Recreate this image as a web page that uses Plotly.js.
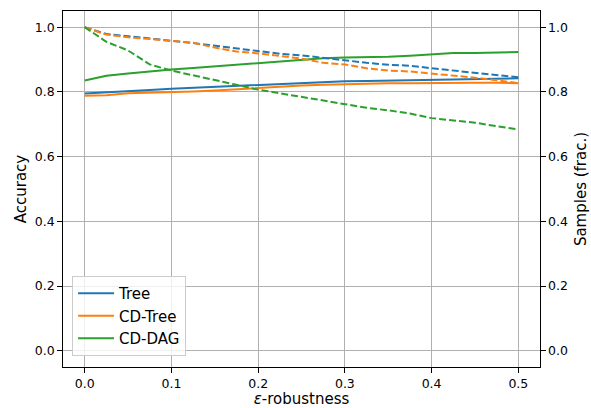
<!DOCTYPE html>
<html>
<head>
<meta charset="utf-8">
<script src="https://cdn.plot.ly/plotly-3.0.1.min.js"></script>
<style>
  html, body { margin: 0; padding: 0; background: #fff; }
  #chart { width: 591px; height: 408px; }
</style>
</head>
<body>
<div id="chart"></div>
<script>
// epsilon values
const eps = [0, 0.025, 0.05, 0.075, 0.1, 0.125, 0.15, 0.175, 0.2, 0.225, 0.25,
             0.275, 0.3, 0.325, 0.35, 0.375, 0.4, 0.425, 0.45, 0.475, 0.5];

// accuracy (left axis, solid lines)
const accTree   = [0.795, 0.798, 0.801, 0.806, 0.810, 0.813, 0.815, 0.819, 0.823, 0.826, 0.829,
                   0.831, 0.833, 0.834, 0.835, 0.836, 0.838, 0.839, 0.840, 0.841, 0.842];
const accCDTree = [0.788, 0.790, 0.796, 0.797, 0.799, 0.801, 0.804, 0.808, 0.813, 0.817, 0.820,
                   0.822, 0.824, 0.826, 0.827, 0.827, 0.828, 0.828, 0.828, 0.828, 0.827];
const accCDDAG  = [0.835, 0.850, 0.857, 0.864, 0.869, 0.874, 0.879, 0.884, 0.891, 0.895, 0.900,
                   0.904, 0.906, 0.907, 0.909, 0.912, 0.917, 0.920, 0.920, 0.921, 0.923];

// fraction of samples (right axis, dashed lines)
const smpTree   = [1.000, 0.979, 0.972, 0.966, 0.958, 0.951, 0.943, 0.935, 0.926, 0.918, 0.913,
                   0.905, 0.898, 0.890, 0.884, 0.881, 0.873, 0.866, 0.859, 0.853, 0.845];
const smpCDTree = [1.000, 0.977, 0.969, 0.964, 0.958, 0.952, 0.937, 0.925, 0.919, 0.912, 0.903,
                   0.890, 0.885, 0.873, 0.866, 0.863, 0.857, 0.852, 0.844, 0.836, 0.827];
const smpCDDAG  = [1.000, 0.955, 0.928, 0.885, 0.866, 0.852, 0.838, 0.822, 0.807, 0.796, 0.785,
                   0.772, 0.762, 0.751, 0.743, 0.733, 0.719, 0.711, 0.705, 0.694, 0.684];

const names  = ['Tree', 'CD-Tree', 'CD-DAG'];
const colors = ['#1f77b4', '#ff7f0e', '#2ca02c'];
const accs   = [accTree, accCDTree, accCDDAG];
const smps   = [smpTree, smpCDTree, smpCDDAG];

const traces = [];
names.forEach((n, i) => {
  traces.push({
    x: eps, y: smps[i], type: 'scatter', mode: 'lines', yaxis: 'y2',
    line: {color: colors[i], width: 2, dash: '7px,3px'},
    showlegend: false, hoverinfo: 'skip'
  });
});
names.forEach((n, i) => {
  traces.push({
    x: eps, y: accs[i], type: 'scatter', mode: 'lines', name: n,
    line: {color: colors[i], width: 2}
  });
});

const tickFont = {family: 'DejaVu Sans', size: 12.5, color: '#000'};
const layout = {
  width: 591, height: 408,
  margin: {l: 63, r: 51, t: 11, b: 41},
  paper_bgcolor: '#fff', plot_bgcolor: '#fff',
  showlegend: true,
  xaxis: {
    range: [-0.025, 0.525], tickvals: [0, 0.1, 0.2, 0.3, 0.4, 0.5], tickformat: '.1f',
    showgrid: true, gridcolor: '#b0b0b0', gridwidth: 1,
    zeroline: false, showline: true, linecolor: '#000', linewidth: 1.3, mirror: true,
    ticks: 'outside', ticklen: 4.5, tickwidth: 1, tickcolor: '#000',
    tickfont: tickFont,
    title: {text: '<i>ε</i>-robustness', font: {family: 'DejaVu Sans', size: 15, color: '#000'}, standoff: 6}
  },
  yaxis: {
    range: [-0.05, 1.05], tickvals: [0, 0.2, 0.4, 0.6, 0.8, 1.0], tickformat: '.1f',
    showgrid: true, gridcolor: '#b0b0b0', gridwidth: 1,
    zeroline: false, showline: true, linecolor: '#000', linewidth: 1.3, mirror: true,
    ticks: 'outside', ticklen: 4.5, tickwidth: 1, tickcolor: '#000',
    tickfont: tickFont,
    title: {text: 'Accuracy', font: {family: 'DejaVu Sans', size: 15, color: '#000'}, standoff: 4}
  },
  yaxis2: {
    overlaying: 'y', side: 'right',
    range: [-0.05, 1.05], tickvals: [0, 0.2, 0.4, 0.6, 0.8, 1.0], tickformat: '.1f',
    showgrid: false, zeroline: false, showline: false,
    ticks: 'outside', ticklen: 4.5, tickwidth: 1, tickcolor: '#000',
    tickfont: tickFont,
    title: {text: 'Samples (frac.)', font: {family: 'DejaVu Sans', size: 15, color: '#000'}, standoff: 8}
  },
  legend: {
    x: 0.019, y: 0.031, xanchor: 'left', yanchor: 'bottom',
    bgcolor: 'rgba(255,255,255,0.8)', bordercolor: '#cccccc', borderwidth: 1,
    font: {family: 'DejaVu Sans', size: 15, color: '#000'},
    tracegroupgap: 0, itemwidth: 36
  }
};

Plotly.newPlot('chart', traces, layout, {displayModeBar: false, staticPlot: true});
</script>
</body>
</html>
